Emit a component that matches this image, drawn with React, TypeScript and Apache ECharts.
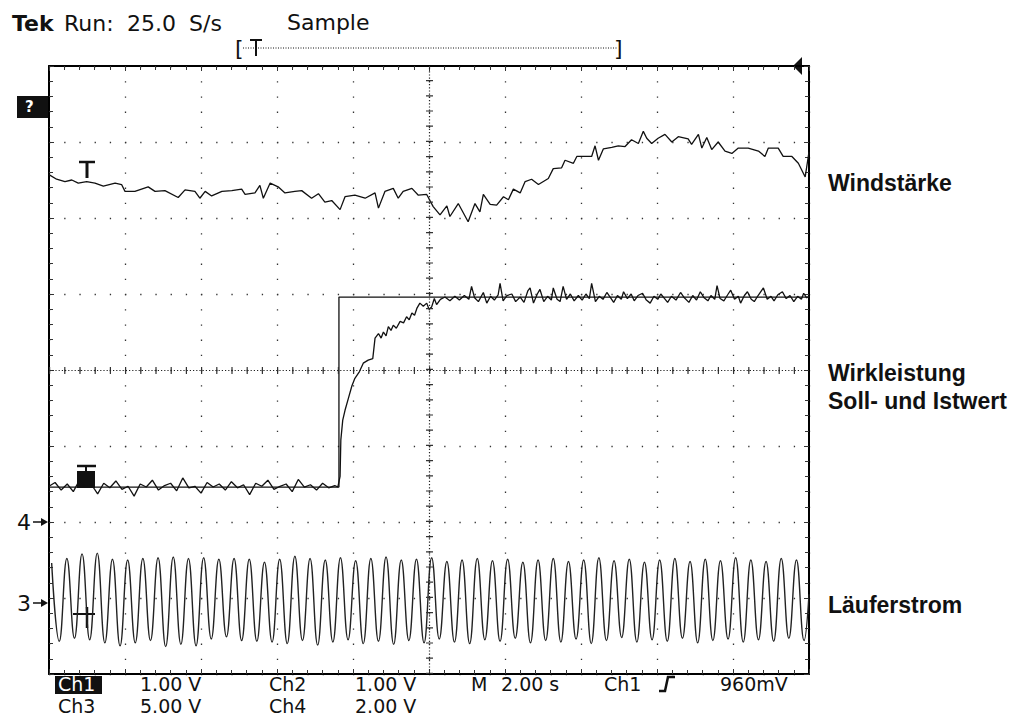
import React, { useEffect, useRef } from "react";
import * as echarts from "echarts";

// x: time in seconds (M 2.00 s / div, 10 div), y: screen divisions (0..8)
const timeMin = 0;
const timeMax = 20;
const timeStep = 2;
const divMin = 0;
const divMax = 8;

const windstaerke: [number, number][] = [
  [0, 6.57], [0.2, 6.51], [0.42, 6.48], [0.6, 6.5], [0.77, 6.46], [0.99, 6.48], [1.21, 6.46], [1.43, 6.42],
  [1.74, 6.46], [1.91, 6.44], [2.0, 6.35], [2.26, 6.35], [2.61, 6.41], [2.79, 6.35], [3.05, 6.36], [3.4, 6.27],
  [3.58, 6.37], [3.84, 6.35], [3.97, 6.26], [4.11, 6.35], [4.28, 6.29], [4.55, 6.35], [4.81, 6.36], [5.07, 6.38],
  [5.16, 6.31], [5.42, 6.33], [5.55, 6.43], [5.64, 6.26], [5.82, 6.46], [6.03, 6.41], [6.21, 6.33], [6.47, 6.35],
  [6.65, 6.36], [6.91, 6.26], [7.09, 6.32], [7.26, 6.21], [7.44, 6.23], [7.66, 6.11], [7.79, 6.28], [8.05, 6.3],
  [8.32, 6.26], [8.58, 6.33], [8.67, 6.13], [8.84, 6.35], [9.06, 6.39], [9.19, 6.26], [9.32, 6.35], [9.55, 6.39],
  [9.72, 6.3], [9.94, 6.31], [10.11, 6.15], [10.29, 6.04], [10.47, 6.16], [10.55, 6.02], [10.77, 6.19], [11.03, 5.95],
  [11.21, 6.19], [11.34, 6.08], [11.43, 6.31], [11.61, 6.18], [11.78, 6.17], [11.96, 6.28], [12.09, 6.24], [12.22, 6.38],
  [12.4, 6.33], [12.53, 6.48], [12.7, 6.51], [12.88, 6.44], [13.14, 6.52], [13.27, 6.65], [13.49, 6.66], [13.58, 6.76],
  [13.8, 6.72], [13.89, 6.81], [14.28, 6.81], [14.37, 6.95], [14.46, 6.76], [14.59, 6.91], [14.81, 6.93], [14.98, 6.95],
  [15.16, 6.94], [15.33, 7.03], [15.51, 6.98], [15.64, 7.14], [15.73, 7.05], [15.86, 6.98], [16.03, 7.05], [16.21, 7.1],
  [16.39, 7.0], [16.56, 7.07], [16.82, 7.04], [16.91, 6.97], [17.09, 7.1], [17.18, 6.92], [17.31, 7.06], [17.44, 6.9],
  [17.61, 7.0], [17.79, 6.88], [17.97, 6.85], [18.14, 6.92], [18.4, 6.92], [18.67, 6.88], [18.84, 6.81], [18.93, 6.92],
  [19.19, 6.92], [19.32, 6.81], [19.55, 6.81], [19.72, 6.72], [19.9, 6.54], [20, 6.87],
];

const sollwert: [number, number][] = [
  [0, 2.46], [7.63, 2.46], [7.63, 4.96], [20, 4.96],
];

const istwert: [number, number][] = [
  [0.0, 2.47], [0.16, 2.52], [0.32, 2.42], [0.48, 2.5], [0.64, 2.4], [0.8, 2.55], [0.96, 2.46], [1.12, 2.49],
  [1.28, 2.37], [1.44, 2.51], [1.6, 2.45], [1.76, 2.54], [1.92, 2.43], [2.08, 2.47], [2.24, 2.34], [2.4, 2.5],
  [2.56, 2.46], [2.72, 2.55], [2.88, 2.42], [3.04, 2.48], [3.2, 2.51], [3.36, 2.41], [3.52, 2.58], [3.68, 2.45],
  [3.84, 2.47], [4.0, 2.38], [4.16, 2.52], [4.32, 2.46], [4.48, 2.5], [4.64, 2.42], [4.8, 2.53], [4.96, 2.45],
  [5.12, 2.49], [5.28, 2.36], [5.44, 2.51], [5.6, 2.47], [5.76, 2.55], [5.92, 2.43], [6.08, 2.47], [6.24, 2.5],
  [6.4, 2.4], [6.56, 2.56], [6.72, 2.46], [6.88, 2.49], [7.04, 2.42], [7.2, 2.51], [7.36, 2.45], [7.52, 2.48],
  [7.6, 2.46], [7.66, 2.6], [7.68, 3.08], [7.73, 3.34], [7.79, 3.47], [7.88, 3.63], [7.97, 3.79], [8.05, 3.89],
  [8.17, 3.98], [8.27, 4.09], [8.4, 4.13], [8.52, 4.15], [8.58, 4.42], [8.67, 4.48], [8.74, 4.42], [8.8, 4.5],
  [8.87, 4.45], [8.93, 4.57], [9.0, 4.52], [9.06, 4.59], [9.14, 4.55], [9.24, 4.64], [9.33, 4.62], [9.41, 4.7],
  [9.48, 4.66], [9.55, 4.75], [9.62, 4.72], [9.68, 4.81], [9.76, 4.88], [9.85, 4.84], [9.94, 4.88], [10.0, 4.8],
  [10.07, 4.83], [10.14, 4.94], [10.2, 4.86],
  [10.3, 4.93], [10.42, 4.96], [10.55, 4.91], [10.68, 4.97], [10.8, 4.92], [10.93, 4.98], [11.05, 4.93], [11.12, 5.1],
  [11.2, 4.95], [11.3, 4.9], [11.43, 5.02], [11.52, 4.88], [11.62, 4.97], [11.72, 4.92], [11.82, 4.99], [11.87, 5.14],
  [11.95, 4.91], [12.05, 4.98], [12.18, 5.0], [12.28, 4.9], [12.4, 4.96], [12.5, 4.89], [12.6, 5.04], [12.66, 5.08],
  [12.75, 4.88], [12.85, 5.0], [12.92, 5.06], [13.02, 4.9], [13.12, 4.97], [13.22, 4.92], [13.27, 5.08], [13.37, 4.93],
  [13.45, 4.9], [13.53, 5.1], [13.62, 4.93], [13.72, 5.0], [13.82, 4.91], [13.93, 4.98], [14.03, 4.92], [14.13, 5.0],
  [14.22, 4.94], [14.28, 5.14], [14.38, 4.9], [14.48, 4.97], [14.58, 4.93], [14.68, 5.02], [14.78, 4.95], [14.86, 4.89],
  [14.96, 4.98], [15.06, 4.93], [15.12, 5.03], [15.22, 4.94], [15.32, 5.0], [15.4, 4.91], [15.5, 4.98], [15.62, 5.01],
  [15.72, 4.92], [15.82, 4.88], [15.92, 4.97], [16.02, 4.93], [16.1, 5.0], [16.2, 4.94], [16.28, 4.89], [16.38, 4.97],
  [16.5, 4.92], [16.62, 5.02], [16.72, 4.95], [16.84, 4.89], [16.94, 4.98], [17.04, 4.92], [17.14, 5.03], [17.24, 4.95],
  [17.34, 4.91], [17.42, 4.98], [17.52, 4.93], [17.58, 5.11], [17.66, 4.94], [17.76, 4.91], [17.86, 4.99], [17.94, 5.05],
  [18.04, 4.93], [18.14, 4.97], [18.2, 4.88], [18.3, 4.98], [18.38, 5.03], [18.48, 4.93], [18.56, 4.9], [18.66, 4.98],
  [18.8, 5.08], [18.9, 4.93], [19.0, 4.97], [19.08, 4.91], [19.18, 4.99], [19.3, 5.03], [19.4, 4.94], [19.5, 4.98],
  [19.6, 4.9], [19.7, 4.97], [19.8, 4.93], [19.86, 5.01], [19.94, 4.95], [20.0, 4.97],
];

// Läuferstrom: one peak and one trough per period
const laeuferFirstPeak = 0.07;
const laeuferPeriod = 0.4;
const laeuferPeaks = [
  1.46, 1.52, 1.58, 1.59, 1.51, 1.5, 1.52, 1.53, 1.54, 1.52, 1.53, 1.51, 1.52, 1.51, 1.47, 1.51, 1.55, 1.52, 1.5, 1.53,
  1.49, 1.52, 1.54, 1.5, 1.51, 1.53, 1.48, 1.5, 1.52, 1.49, 1.51, 1.47, 1.5, 1.52, 1.48, 1.5, 1.53, 1.49, 1.51, 1.47,
  1.5, 1.52, 1.48, 1.51, 1.49, 1.53, 1.5, 1.48, 1.52, 1.5,
];
const laeuferTroughs = [
  0.43, 0.47, 0.45, 0.41, 0.37, 0.41, 0.44, 0.36, 0.39, 0.37, 0.46, 0.49, 0.44, 0.43, 0.42, 0.4, 0.44, 0.38, 0.42, 0.45,
  0.4, 0.43, 0.39, 0.44, 0.41, 0.46, 0.42, 0.4, 0.45, 0.43, 0.47, 0.41, 0.44, 0.42, 0.46, 0.4, 0.44, 0.48, 0.42, 0.45,
  0.43, 0.47, 0.41, 0.44, 0.46, 0.42, 0.45, 0.43, 0.47, 0.44,
];
const laeuferEnd: [number, number] = [20, 1.05];

const headerLabels = ["Tek", "Run:", "25.0", "S/s", "Sample"];
const footerRow1 = ["Ch1", "1.00 V", "Ch2", "1.00 V", "M", "2.00 s", "Ch1", "960mV"];
const footerRow2 = ["Ch3", "5.00 V", "Ch4", "2.00 V"];
const traceLabels = ["Windstärke", "Wirkleistung", "Soll- und Istwert", "Läuferstrom"];
const refMarkers = ["4", "3"];

const INK = "#111";
const SCOPE_FONT = "DejaVu Sans";
const LABEL_FONT = "Liberation Sans";

function txt(text: string, x: number, y: number, opts: any = {}) {
  const fs = opts.fontSize || 22;
  return {
    type: "text",
    x,
    y,
    silent: true,
    style: {
      text,
      fill: opts.fill || INK,
      fontSize: fs,
      lineHeight: opts.lineHeight || fs,
      fontFamily: opts.fontFamily || SCOPE_FONT,
      fontWeight: opts.fontWeight || "normal",
      textAlign: opts.align || "left",
      align: opts.align || "left",
      verticalAlign: "middle",
      textVerticalAlign: "middle",
    },
  };
}

function ln(x1: number, y1: number, x2: number, y2: number, w = 2, dash?: number[]) {
  return {
    type: "line",
    silent: true,
    shape: { x1, y1, x2, y2 },
    style: { stroke: INK, lineWidth: w, lineDash: dash },
  };
}

export default function App() {
  const ref = useRef<HTMLDivElement>(null);

  useEffect(() => {
    if (!ref.current) return;
    const chart = echarts.init(ref.current, null, { renderer: "svg" });

    const laeuferData: [number, number][] = [];
    laeuferPeaks.forEach((p, i) => {
      const t = laeuferFirstPeak + i * laeuferPeriod;
      laeuferData.push([t, p]);
      laeuferData.push([t + laeuferPeriod / 2, laeuferTroughs[i]]);
    });
    laeuferData.push(laeuferEnd);

    const frameAxis = (pos: string, isX: boolean, withSplit: boolean) => ({
      type: "value",
      position: pos,
      min: isX ? timeMin : divMin,
      max: isX ? timeMax : divMax,
      interval: isX ? timeStep : 1,
      axisLine: { show: true, onZero: false, lineStyle: { color: "#000", width: 2 } },
      axisTick: { show: true, inside: true, length: 5, lineStyle: { color: "#333", width: 1 } },
      minorTick: { show: true, splitNumber: 5, length: 4, lineStyle: { color: "#333", width: 1 } },
      axisLabel: { show: false },
      splitLine: {
        show: withSplit,
        lineStyle: { color: "#333", width: 1.3, type: [1.3, 13.9] },
      },
    });

    const traceStyle = { color: INK, width: 1.3 };
    const FS = 19;
    const ROW1 = 684;
    const ROW2 = 706;

    const graphics: any[] = [
      // header
      txt(headerLabels[0], 12, 23, { fontWeight: "bold" }),
      txt(headerLabels[1], 64, 23),
      txt(headerLabels[2], 127, 23),
      txt(headerLabels[3], 189, 23),
      txt(headerLabels[4], 287, 22),
      // record bracket
      txt("[", 235, 48, { fontSize: 22 }),
      ln(243, 48, 617, 48, 1, [1, 1.5]),
      ln(250, 40, 262, 40, 2),
      ln(256, 40, 256, 56, 2),
      txt("]", 614, 48, { fontSize: 22 }),
      // trigger position pointer
      { type: "polygon", silent: true, shape: { points: [[793, 66], [802, 57], [802, 75]] }, style: { fill: INK } },
      // channel box on left
      { type: "rect", silent: true, shape: { x: 17, y: 96, width: 32, height: 22 }, style: { fill: INK } },
      txt("?", 25, 107, { fill: "#fff", fontSize: 15, fontWeight: "bold" }),
      // ground reference markers
      txt(refMarkers[0], 17, 522, { fontSize: 22 }),
      ln(33, 522, 45, 522, 1.5),
      { type: "polygon", silent: true, shape: { points: [[41, 518], [48, 522], [41, 526]] }, style: { fill: INK } },
      txt(refMarkers[1], 17, 603, { fontSize: 22 }),
      ln(33, 603, 45, 603, 1.5),
      { type: "polygon", silent: true, shape: { points: [[41, 599], [48, 603], [41, 607]] }, style: { fill: INK } },
      // trace markers
      ln(79, 162, 95, 162, 2.5),
      ln(87, 162, 87, 178, 3),
      ln(77, 466, 96, 466, 2.5),
      ln(86, 466, 86, 472, 2),
      { type: "rect", silent: true, shape: { x: 77, y: 471, width: 18, height: 17 }, style: { fill: INK } },
      ln(73, 614, 95, 614, 2),
      ln(87, 607, 87, 628, 2.5),
      // footer row 1
      { type: "rect", silent: true, shape: { x: 55, y: 676, width: 47, height: 18 }, style: { fill: INK } },
      txt(footerRow1[0], 58, ROW1, { fill: "#fff", fontSize: FS }),
      txt(footerRow1[1], 140, ROW1, { fontSize: FS }),
      txt(footerRow1[2], 269, ROW1, { fontSize: FS }),
      txt(footerRow1[3], 355, ROW1, { fontSize: FS }),
      txt(footerRow1[4], 471, ROW1, { fontSize: FS }),
      txt(footerRow1[5], 501, ROW1, { fontSize: FS }),
      txt(footerRow1[6], 604, ROW1, { fontSize: FS }),
      {
        type: "polyline",
        silent: true,
        shape: { points: [[659, 691], [665, 691], [668, 677], [675, 677]] },
        style: { stroke: INK, lineWidth: 2.5, fill: null },
      },
      txt(footerRow1[7], 720, ROW1, { fontSize: FS }),
      // footer row 2
      txt(footerRow2[0], 58, ROW2, { fontSize: FS }),
      txt(footerRow2[1], 140, ROW2, { fontSize: FS }),
      txt(footerRow2[2], 269, ROW2, { fontSize: FS }),
      txt(footerRow2[3], 355, ROW2, { fontSize: FS }),
      // trace labels
      txt(traceLabels[0], 828, 183, { fontFamily: LABEL_FONT, fontWeight: "bold", fontSize: 23 }),
      txt(traceLabels[1], 828, 373, { fontFamily: LABEL_FONT, fontWeight: "bold", fontSize: 23 }),
      txt(traceLabels[2], 828, 401, { fontFamily: LABEL_FONT, fontWeight: "bold", fontSize: 23 }),
      txt(traceLabels[3], 828, 605, { fontFamily: LABEL_FONT, fontWeight: "bold", fontSize: 23 }),
    ];

    chart.setOption({
      animation: false,
      backgroundColor: "#fff",
      grid: { left: 49, top: 66, width: 760, height: 608, containLabel: false },
      xAxis: [frameAxis("bottom", true, true), frameAxis("top", true, false)],
      yAxis: [frameAxis("left", false, true), frameAxis("right", false, false)],
      series: [
        {
          name: "Windstärke",
          type: "line",
          data: windstaerke,
          showSymbol: false,
          lineStyle: traceStyle,
          silent: true,
          markLine: {
            silent: true,
            symbol: "none",
            label: { show: false },
            lineStyle: { color: "#333", width: 7, type: [1.2, 14] },
            data: [{ xAxis: 10 }, { yAxis: 4 }],
          },
        },
        {
          name: "Soll",
          type: "line",
          data: sollwert,
          showSymbol: false,
          lineStyle: traceStyle,
          silent: true,
          markLine: {
            silent: true,
            symbol: "none",
            label: { show: false },
            lineStyle: { color: "#222", width: 1.2, type: [1.2, 2] },
            data: [{ xAxis: 10 }, { yAxis: 4 }],
          },
        },
        {
          name: "Ist",
          type: "line",
          data: istwert,
          showSymbol: false,
          lineStyle: traceStyle,
          silent: true,
        },
        {
          name: "Läuferstrom",
          type: "line",
          data: laeuferData,
          showSymbol: false,
          smooth: 0.45,
          lineStyle: { color: "#222", width: 1.4 },
          silent: true,
        },
      ],
      graphic: graphics,
    });

    return () => chart.dispose();
  }, []);

  return (
    <div
      ref={ref}
      style={{ position: "absolute", left: 0, top: 0, width: 1021, height: 718, background: "#fff" }}
    />
  );
}
